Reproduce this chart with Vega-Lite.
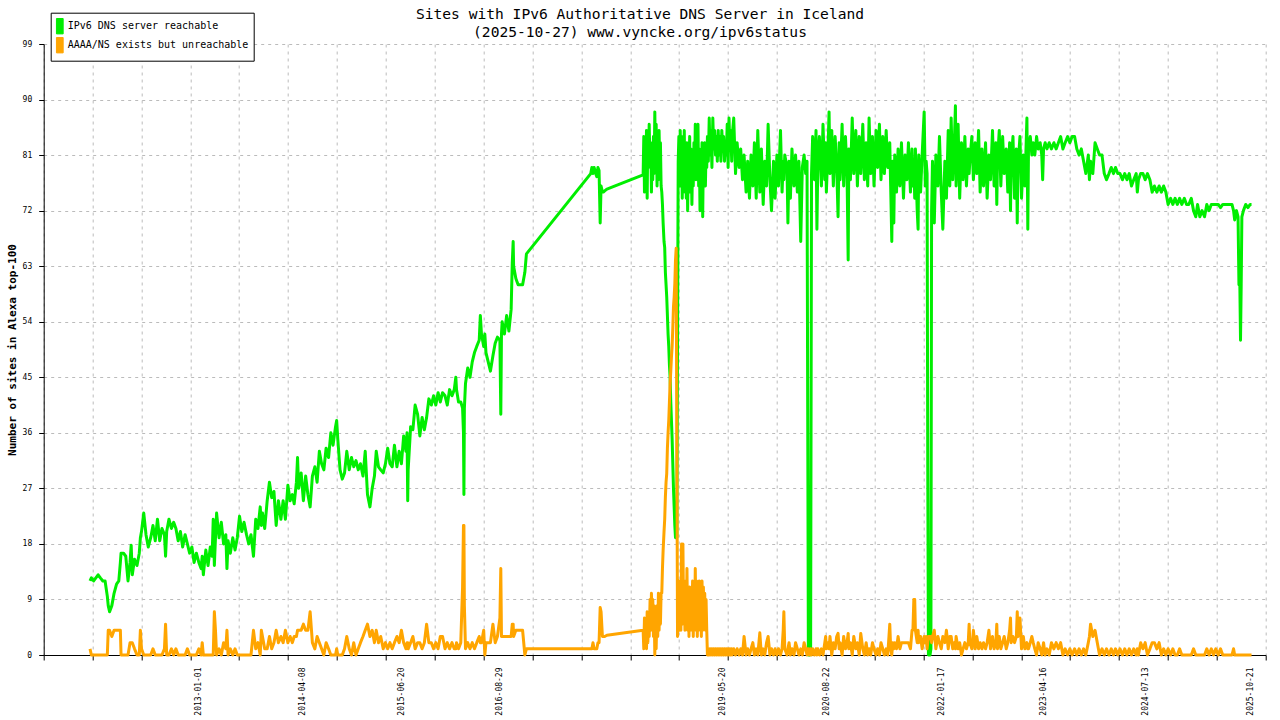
{
  "$schema": "https://vega.github.io/schema/vega-lite/v6.json",
  "description": "Sites with IPv6 Authoritative DNS Server in Iceland",
  "background": "white",
  "autosize": {"type": "none"},
  "padding": {"left": 43.7, "top": 44, "right": 14.3, "bottom": 65},
  "width": 1222,
  "height": 611,
  "config": {
    "view": {"stroke": null},
    "font": "DejaVu Sans Mono",
    "axis": {
      "domainColor": "black",
      "tickColor": "black",
      "labelColor": "black",
      "titleColor": "black",
      "gridColor": "#bbbbbb",
      "gridDash": [3, 4],
      "labelFont": "DejaVu Sans Mono",
      "labelFontSize": 8
    }
  },
  "title": {
    "text": "Sites with IPv6 Authoritative DNS Server in Iceland",
    "subtitle": "(2025-10-27) www.vyncke.org/ipv6status",
    "font": "DejaVu Sans Mono",
    "fontSize": 14.6,
    "fontWeight": "normal",
    "color": "black",
    "subtitleFont": "DejaVu Sans Mono",
    "subtitleFontSize": 14.6,
    "subtitleColor": "black",
    "anchor": "middle",
    "frame": "group",
    "dx": -14.7,
    "offset": -27,
    "subtitlePadding": 3
  },
  "data": {
    "values": [
      {"d":"2011-09-05","g":12,"o":1},{"d":"2011-09-11","g":12.5,"o":0},{"d":"2011-09-21","g":12,"o":0},
      {"d":"2011-10-01","g":12.5,"o":0},{"d":"2011-10-11","g":13,"o":0},{"d":"2011-10-21","g":12.5,"o":0},
      {"d":"2011-11-01","g":12,"o":0},{"d":"2011-11-11","g":12,"o":0},{"d":"2011-11-21","g":9.5,"o":0},
      {"d":"2011-11-25","g":8,"o":4},{"d":"2011-12-01","g":7,"o":4},{"d":"2011-12-11","g":8,"o":3},
      {"d":"2011-12-21","g":10,"o":4},{"d":"2012-01-01","g":11.5,"o":4},{"d":"2012-01-11","g":12,"o":4},
      {"d":"2012-01-18","g":15,"o":4},{"d":"2012-01-21","g":16.5,"o":0},{"d":"2012-02-01","g":16.5,"o":0},
      {"d":"2012-02-11","g":16,"o":0},{"d":"2012-02-21","g":12,"o":0},{"d":"2012-03-01","g":15,"o":2},
      {"d":"2012-03-06","g":17.8,"o":2},{"d":"2012-03-11","g":13,"o":2},{"d":"2012-03-21","g":15.5,"o":1},
      {"d":"2012-04-01","g":14.5,"o":0},{"d":"2012-04-11","g":16.5,"o":0},{"d":"2012-04-16","g":19,"o":4},
      {"d":"2012-04-21","g":20,"o":1},{"d":"2012-05-01","g":23,"o":0},{"d":"2012-05-11","g":19.5,"o":0},
      {"d":"2012-05-21","g":17.5,"o":0},{"d":"2012-06-01","g":19,"o":0},{"d":"2012-06-11","g":21,"o":1},
      {"d":"2012-06-21","g":18.5,"o":0},{"d":"2012-07-01","g":22,"o":0},{"d":"2012-07-11","g":18.5,"o":0},
      {"d":"2012-07-21","g":20.5,"o":0},{"d":"2012-08-01","g":19.5,"o":1},{"d":"2012-08-06","g":16,"o":5},
      {"d":"2012-08-11","g":20,"o":0},{"d":"2012-08-21","g":22,"o":0},{"d":"2012-09-01","g":20.5,"o":1},
      {"d":"2012-09-11","g":21.5,"o":0},{"d":"2012-09-21","g":20.5,"o":1},{"d":"2012-10-01","g":18.5,"o":0},
      {"d":"2012-10-11","g":20,"o":0},{"d":"2012-10-21","g":17.5,"o":0},{"d":"2012-11-01","g":19.5,"o":0},
      {"d":"2012-11-11","g":18,"o":1},{"d":"2012-11-21","g":16.5,"o":0},{"d":"2012-12-01","g":17.5,"o":0},
      {"d":"2012-12-11","g":15,"o":0},{"d":"2012-12-21","g":16.5,"o":0},
      {"d":"2013-01-01","g":15,"o":1},{"d":"2013-01-11","g":14,"o":0},{"d":"2013-01-16","g":16,"o":2},
      {"d":"2013-01-21","g":13,"o":0},{"d":"2013-02-01","g":17,"o":0},{"d":"2013-02-11","g":14.5,"o":0},
      {"d":"2013-02-21","g":17.5,"o":0},{"d":"2013-03-01","g":16,"o":0},{"d":"2013-03-06","g":22,"o":0},
      {"d":"2013-03-11","g":14.5,"o":7},{"d":"2013-03-16","g":19,"o":4},{"d":"2013-03-21","g":23,"o":0},
      {"d":"2013-04-01","g":19,"o":1},{"d":"2013-04-11","g":21.5,"o":0},{"d":"2013-04-21","g":18,"o":2},
      {"d":"2013-05-01","g":19.5,"o":1},{"d":"2013-05-06","g":14,"o":4},{"d":"2013-05-11","g":18.5,"o":0},
      {"d":"2013-05-21","g":16.5,"o":1},{"d":"2013-06-01","g":19,"o":0},{"d":"2013-06-11","g":17,"o":1},
      {"d":"2013-06-21","g":19,"o":0},{"d":"2013-07-01","g":22.5,"o":0},{"d":"2013-07-11","g":20,"o":0},
      {"d":"2013-07-21","g":21.5,"o":0},{"d":"2013-08-01","g":19.5,"o":0},{"d":"2013-08-11","g":18,"o":0},
      {"d":"2013-08-21","g":19.5,"o":0},{"d":"2013-09-01","g":16,"o":4},{"d":"2013-09-11","g":22,"o":1},
      {"d":"2013-09-21","g":20.5,"o":2},{"d":"2013-10-01","g":24,"o":0},{"d":"2013-10-06","g":21,"o":4},
      {"d":"2013-10-11","g":23,"o":3},{"d":"2013-10-21","g":20.5,"o":1},{"d":"2013-11-01","g":25,"o":1},
      {"d":"2013-11-11","g":28,"o":3},{"d":"2013-11-21","g":25.5,"o":1},{"d":"2013-12-01","g":26.5,"o":2},
      {"d":"2013-12-11","g":21,"o":4},{"d":"2013-12-21","g":25,"o":2},
      {"d":"2014-01-01","g":22,"o":3},{"d":"2014-01-11","g":25,"o":2},{"d":"2014-01-21","g":22,"o":4},
      {"d":"2014-02-01","g":27.5,"o":2},{"d":"2014-02-11","g":25,"o":3},{"d":"2014-02-21","g":26,"o":2},
      {"d":"2014-03-01","g":24.5,"o":3},{"d":"2014-03-11","g":28,"o":3},{"d":"2014-03-16","g":32,"o":4},
      {"d":"2014-03-21","g":27,"o":4},{"d":"2014-04-01","g":29.5,"o":4},{"d":"2014-04-11","g":25,"o":5},
      {"d":"2014-04-21","g":29,"o":4},{"d":"2014-05-01","g":26,"o":4},{"d":"2014-05-11","g":24,"o":7},
      {"d":"2014-05-21","g":29,"o":2},{"d":"2014-06-01","g":30.5,"o":1},{"d":"2014-06-11","g":28,"o":3},
      {"d":"2014-06-21","g":33,"o":2},{"d":"2014-07-01","g":31,"o":1},{"d":"2014-07-11","g":30,"o":0},
      {"d":"2014-07-21","g":33.5,"o":2},{"d":"2014-08-01","g":32,"o":1},{"d":"2014-08-11","g":36,"o":0},
      {"d":"2014-08-21","g":34,"o":0},{"d":"2014-09-01","g":37,"o":0},{"d":"2014-09-06","g":38,"o":1},
      {"d":"2014-09-11","g":35,"o":0},{"d":"2014-09-21","g":30,"o":0},{"d":"2014-10-01","g":28.5,"o":0},
      {"d":"2014-10-11","g":29.5,"o":1},{"d":"2014-10-21","g":33,"o":3},{"d":"2014-11-01","g":30,"o":1},
      {"d":"2014-11-11","g":32,"o":0},{"d":"2014-11-21","g":30.5,"o":2},{"d":"2014-12-01","g":31.5,"o":0},
      {"d":"2014-12-11","g":30,"o":1},{"d":"2014-12-21","g":31,"o":2},
      {"d":"2015-01-01","g":29,"o":3},{"d":"2015-01-11","g":33,"o":4},{"d":"2015-01-21","g":26,"o":5},
      {"d":"2015-02-01","g":24,"o":3},{"d":"2015-02-11","g":27,"o":4},{"d":"2015-02-21","g":29,"o":2},
      {"d":"2015-03-01","g":33,"o":4},{"d":"2015-03-11","g":30.5,"o":2},{"d":"2015-03-21","g":30,"o":3},
      {"d":"2015-04-01","g":29.5,"o":1},{"d":"2015-04-11","g":31,"o":2},{"d":"2015-04-21","g":33.5,"o":1},
      {"d":"2015-05-01","g":31,"o":2},{"d":"2015-05-11","g":30.5,"o":1},{"d":"2015-05-21","g":34,"o":2},
      {"d":"2015-06-01","g":30.5,"o":3},{"d":"2015-06-11","g":33,"o":2},{"d":"2015-06-21","g":31,"o":4},
      {"d":"2015-07-01","g":35.5,"o":2},{"d":"2015-07-11","g":33,"o":1},{"d":"2015-07-16","g":36,"o":2},
      {"d":"2015-07-19","g":25,"o":2},{"d":"2015-07-21","g":30,"o":1},{"d":"2015-08-01","g":37,"o":2},
      {"d":"2015-08-11","g":36.5,"o":3},{"d":"2015-08-21","g":40.5,"o":1},{"d":"2015-09-01","g":39,"o":2},
      {"d":"2015-09-11","g":35.5,"o":2},{"d":"2015-09-21","g":38.5,"o":1},{"d":"2015-10-01","g":36.5,"o":2},
      {"d":"2015-10-11","g":38.5,"o":5},{"d":"2015-10-21","g":41.5,"o":2},{"d":"2015-11-01","g":40.5,"o":2},
      {"d":"2015-11-11","g":42,"o":1},{"d":"2015-11-21","g":40.5,"o":2},{"d":"2015-12-01","g":42.5,"o":1},
      {"d":"2015-12-11","g":41,"o":3},{"d":"2015-12-21","g":42.5,"o":3},
      {"d":"2016-01-01","g":42,"o":1},{"d":"2016-01-11","g":40.5,"o":2},{"d":"2016-01-21","g":43,"o":1},
      {"d":"2016-02-01","g":42,"o":2},{"d":"2016-02-11","g":43,"o":1},{"d":"2016-02-18","g":45,"o":1},
      {"d":"2016-02-21","g":43,"o":2},{"d":"2016-03-01","g":41,"o":1},{"d":"2016-03-11","g":41,"o":2},
      {"d":"2016-03-19","g":40,"o":11},{"d":"2016-03-23","g":36,"o":21},{"d":"2016-03-25","g":26,"o":21},
      {"d":"2016-03-27","g":40,"o":8},{"d":"2016-04-01","g":44,"o":1},{"d":"2016-04-11","g":46.5,"o":2},
      {"d":"2016-04-21","g":45,"o":1},{"d":"2016-05-01","g":47.5,"o":2},{"d":"2016-05-11","g":49,"o":1},
      {"d":"2016-05-21","g":50,"o":2},{"d":"2016-06-01","g":51,"o":3},{"d":"2016-06-06","g":55,"o":2},
      {"d":"2016-06-11","g":52,"o":2},{"d":"2016-06-21","g":50,"o":4},{"d":"2016-06-26","g":52,"o":0},
      {"d":"2016-07-01","g":49,"o":2},{"d":"2016-07-11","g":47.5,"o":2},{"d":"2016-07-21","g":46,"o":2},
      {"d":"2016-08-01","g":48.5,"o":5},{"d":"2016-08-11","g":50.5,"o":2},{"d":"2016-08-21","g":51.5,"o":3},
      {"d":"2016-09-01","g":51,"o":6},{"d":"2016-09-05","g":39,"o":14},{"d":"2016-09-08","g":52,"o":3},
      {"d":"2016-09-11","g":54,"o":3},{"d":"2016-09-21","g":52,"o":3},{"d":"2016-10-01","g":55,"o":3},
      {"d":"2016-10-11","g":52.5,"o":3},{"d":"2016-10-21","g":56,"o":3},{"d":"2016-10-26","g":63.5,"o":5},
      {"d":"2016-10-30","g":67,"o":5},{"d":"2016-11-01","g":63,"o":3},{"d":"2016-11-11","g":61,"o":4},
      {"d":"2016-11-21","g":60,"o":4},{"d":"2016-12-01","g":60,"o":4},{"d":"2016-12-11","g":60,"o":4},
      {"d":"2016-12-21","g":62,"o":0},{"d":"2016-12-28","g":65,"o":1},
      {"d":"2017-10-10","g":78,"o":1},{"d":"2017-10-15","g":79,"o":1},{"d":"2017-10-20","g":78,"o":2},
      {"d":"2017-10-25","g":79,"o":1},{"d":"2017-11-01","g":78,"o":1},{"d":"2017-11-06","g":77.5,"o":1},
      {"d":"2017-11-11","g":79,"o":2},{"d":"2017-11-16","g":78.5,"o":2},{"d":"2017-11-21","g":70,"o":7.7},
      {"d":"2017-11-25","g":76,"o":7},{"d":"2017-12-01","g":75,"o":3},{"d":"2017-12-05","g":75,"o":3},
      {"d":"2017-12-11","g":75.2,"o":3},{"d":"2017-12-21","g":75.5,"o":3.2},
      {"d":"2018-05-31","g":77.8,"o":4},{"d":"2018-06-03","g":84,"o":1},{"d":"2018-06-06","g":75,"o":6},
      {"d":"2018-06-09","g":83,"o":2},{"d":"2018-06-12","g":78,"o":5},{"d":"2018-06-15","g":85,"o":1},
      {"d":"2018-06-18","g":74,"o":7},{"d":"2018-06-21","g":85,"o":2},{"d":"2018-06-24","g":80,"o":6},
      {"d":"2018-06-27","g":86,"o":3},{"d":"2018-07-01","g":79,"o":9},{"d":"2018-07-04","g":83,"o":4},
      {"d":"2018-07-07","g":75,"o":10},{"d":"2018-07-10","g":82,"o":5},{"d":"2018-07-13","g":77,"o":9},
      {"d":"2018-07-16","g":84,"o":3},{"d":"2018-07-19","g":78,"o":8},{"d":"2018-07-22","g":88,"o":0},
      {"d":"2018-07-25","g":80,"o":7},{"d":"2018-07-28","g":86,"o":1},{"d":"2018-08-01","g":76,"o":8},
      {"d":"2018-08-04","g":84,"o":3},{"d":"2018-08-07","g":77,"o":10},{"d":"2018-08-10","g":85,"o":4},
      {"d":"2018-08-13","g":79,"o":9},{"d":"2018-08-16","g":83,"o":5},{"d":"2018-08-19","g":76,"o":10},
      {"d":"2018-08-22","g":75,"o":10},{"d":"2018-08-25","g":73,"o":14},{"d":"2018-08-28","g":70,"o":17},
      {"d":"2018-09-01","g":67,"o":20},{"d":"2018-09-04","g":66,"o":22},{"d":"2018-09-07","g":62,"o":25.6},
      {"d":"2018-09-10","g":60,"o":28},{"d":"2018-09-13","g":58,"o":29.4},{"d":"2018-09-16","g":55,"o":33.5},
      {"d":"2018-09-19","g":52,"o":36},{"d":"2018-09-22","g":50,"o":38},{"d":"2018-09-25","g":47,"o":41},
      {"d":"2018-09-28","g":45,"o":44},{"d":"2018-10-01","g":41,"o":46},{"d":"2018-10-04","g":38,"o":48.3},
      {"d":"2018-10-07","g":35,"o":50},{"d":"2018-10-10","g":31,"o":53},{"d":"2018-10-13","g":27,"o":56.4},
      {"d":"2018-10-16","g":24,"o":58},{"d":"2018-10-19","g":21,"o":60.2},{"d":"2018-10-22","g":19,"o":64},
      {"d":"2018-10-25","g":19,"o":65.9},{"d":"2018-10-28","g":19,"o":34.8},{"d":"2018-10-31","g":50,"o":3},
      {"d":"2018-11-03","g":80,"o":8},{"d":"2018-11-06","g":84,"o":12},{"d":"2018-11-09","g":76,"o":4},
      {"d":"2018-11-12","g":85,"o":12},{"d":"2018-11-15","g":78,"o":4},{"d":"2018-11-18","g":84,"o":18},
      {"d":"2018-11-21","g":74,"o":5},{"d":"2018-11-24","g":82,"o":18},{"d":"2018-11-27","g":77,"o":6},
      {"d":"2018-11-30","g":85,"o":11},{"d":"2018-12-03","g":75,"o":4},{"d":"2018-12-06","g":81,"o":12},
      {"d":"2018-12-09","g":74,"o":5},{"d":"2018-12-12","g":83,"o":14},{"d":"2018-12-15","g":72,"o":4},
      {"d":"2018-12-18","g":80,"o":10},{"d":"2018-12-21","g":76,"o":3},{"d":"2018-12-24","g":84,"o":11},
      {"d":"2018-12-27","g":75,"o":4},{"d":"2018-12-30","g":82,"o":9},{"d":"2019-01-03","g":73,"o":4},
      {"d":"2019-01-06","g":80,"o":12},{"d":"2019-01-09","g":76,"o":3},{"d":"2019-01-12","g":83,"o":10},
      {"d":"2019-01-15","g":78,"o":5},{"d":"2019-01-18","g":86,"o":14},{"d":"2019-01-21","g":77,"o":4},
      {"d":"2019-01-24","g":84,"o":12},{"d":"2019-01-27","g":79,"o":3},{"d":"2019-01-30","g":86,"o":10},
      {"d":"2019-02-02","g":76,"o":4},{"d":"2019-02-05","g":82,"o":12},{"d":"2019-02-08","g":72,"o":5},
      {"d":"2019-02-11","g":80,"o":11},{"d":"2019-02-14","g":75,"o":3},{"d":"2019-02-17","g":83,"o":12},
      {"d":"2019-02-20","g":71,"o":4},{"d":"2019-02-23","g":81,"o":11},{"d":"2019-02-26","g":77,"o":5},
      {"d":"2019-03-01","g":83,"o":10},{"d":"2019-03-04","g":76,"o":4},{"d":"2019-03-07","g":82,"o":9},
      {"d":"2019-03-10","g":79,"o":4},{"d":"2019-03-13","g":84,"o":0},{"d":"2019-03-17","g":80,"o":1},
      {"d":"2019-03-21","g":87,"o":0},{"d":"2019-03-25","g":81,"o":1},{"d":"2019-03-29","g":85,"o":0},
      {"d":"2019-04-02","g":79,"o":1},{"d":"2019-04-06","g":87,"o":0},{"d":"2019-04-10","g":82,"o":1},
      {"d":"2019-04-14","g":85,"o":0},{"d":"2019-04-18","g":81,"o":1},{"d":"2019-04-22","g":84,"o":0},
      {"d":"2019-04-26","g":80,"o":1},{"d":"2019-04-30","g":85,"o":0},{"d":"2019-05-04","g":81,"o":1},
      {"d":"2019-05-08","g":84,"o":0},{"d":"2019-05-12","g":80,"o":1},{"d":"2019-05-16","g":85,"o":0},
      {"d":"2019-05-20","g":82,"o":1},{"d":"2019-05-24","g":84,"o":0},{"d":"2019-05-28","g":80,"o":1},
      {"d":"2019-06-01","g":83,"o":0},{"d":"2019-06-05","g":81,"o":1},{"d":"2019-06-09","g":86,"o":0},
      {"d":"2019-06-13","g":79,"o":1},{"d":"2019-06-17","g":87,"o":0},{"d":"2019-06-21","g":82,"o":1},
      {"d":"2019-06-25","g":85,"o":0},{"d":"2019-06-29","g":80,"o":1},
      {"d":"2019-07-01","g":84,"o":0},{"d":"2019-07-08","g":87,"o":1},{"d":"2019-07-16","g":78,"o":0},
      {"d":"2019-07-23","g":83,"o":1},{"d":"2019-08-01","g":79,"o":0},{"d":"2019-08-08","g":82,"o":1},
      {"d":"2019-08-16","g":77,"o":0},{"d":"2019-08-23","g":81,"o":3},{"d":"2019-09-01","g":75,"o":0},
      {"d":"2019-09-08","g":80,"o":1},{"d":"2019-09-16","g":74,"o":0},{"d":"2019-09-23","g":81,"o":1},
      {"d":"2019-10-01","g":76,"o":2},{"d":"2019-10-08","g":83,"o":0},{"d":"2019-10-16","g":74,"o":1},
      {"d":"2019-10-23","g":85,"o":0},{"d":"2019-11-01","g":75,"o":3.6},{"d":"2019-11-08","g":82,"o":0},
      {"d":"2019-11-16","g":73,"o":1},{"d":"2019-11-23","g":80,"o":0},{"d":"2019-12-01","g":76,"o":2},
      {"d":"2019-12-08","g":86,"o":3},{"d":"2019-12-16","g":77,"o":0},{"d":"2019-12-23","g":72,"o":1},
      {"d":"2020-01-01","g":80,"o":0},{"d":"2020-01-08","g":74,"o":1},{"d":"2020-01-16","g":81,"o":0},
      {"d":"2020-01-23","g":76,"o":1},{"d":"2020-02-01","g":85,"o":0},{"d":"2020-02-08","g":75,"o":1},
      {"d":"2020-02-13","g":80,"o":4},{"d":"2020-02-16","g":77,"o":7},{"d":"2020-02-20","g":81,"o":1},
      {"d":"2020-03-01","g":79,"o":0},{"d":"2020-03-05","g":70,"o":1},{"d":"2020-03-10","g":80,"o":2},
      {"d":"2020-03-16","g":74,"o":0},{"d":"2020-03-23","g":82,"o":1},{"d":"2020-04-01","g":76,"o":0},
      {"d":"2020-04-08","g":81,"o":2},{"d":"2020-04-16","g":75,"o":1},{"d":"2020-04-23","g":80,"o":0},
      {"d":"2020-05-01","g":67,"o":1},{"d":"2020-05-08","g":79,"o":0},{"d":"2020-05-16","g":81,"o":2},
      {"d":"2020-05-23","g":78,"o":1},{"d":"2020-05-29","g":80,"o":0},{"d":"2020-06-01","g":40,"o":1},
      {"d":"2020-06-04","g":0,"o":1},{"d":"2020-06-10","g":0,"o":0},{"d":"2020-06-14","g":1,"o":1},
      {"d":"2020-06-18","g":78,"o":0},{"d":"2020-06-23","g":84,"o":1},{"d":"2020-07-01","g":77,"o":0},
      {"d":"2020-07-08","g":85,"o":1},{"d":"2020-07-12","g":69,"o":0},{"d":"2020-07-16","g":80,"o":1},
      {"d":"2020-07-23","g":84,"o":0},{"d":"2020-08-01","g":76,"o":1},{"d":"2020-08-08","g":86,"o":0},
      {"d":"2020-08-16","g":77,"o":2},{"d":"2020-08-20","g":83,"o":3},{"d":"2020-08-23","g":75,"o":1},
      {"d":"2020-09-01","g":84,"o":2},{"d":"2020-09-04","g":88,"o":1},{"d":"2020-09-08","g":78,"o":3},
      {"d":"2020-09-16","g":85,"o":0},{"d":"2020-09-23","g":76,"o":2},{"d":"2020-10-01","g":84,"o":1},
      {"d":"2020-10-08","g":79,"o":3},{"d":"2020-10-14","g":71,"o":3.5},{"d":"2020-10-19","g":83,"o":1},
      {"d":"2020-10-23","g":77,"o":2},{"d":"2020-11-01","g":86,"o":0},{"d":"2020-11-08","g":76,"o":3},
      {"d":"2020-11-16","g":84,"o":1},{"d":"2020-11-23","g":78,"o":2},{"d":"2020-11-28","g":64,"o":3.5},
      {"d":"2020-12-01","g":82,"o":1},{"d":"2020-12-08","g":77,"o":2},{"d":"2020-12-16","g":87,"o":0},
      {"d":"2020-12-23","g":78,"o":3},
      {"d":"2021-01-01","g":85,"o":1},{"d":"2021-01-08","g":76,"o":2},{"d":"2021-01-16","g":84,"o":0},
      {"d":"2021-01-23","g":78,"o":3.5},{"d":"2021-02-01","g":86,"o":1},{"d":"2021-02-08","g":77,"o":0},
      {"d":"2021-02-16","g":83,"o":2},{"d":"2021-02-23","g":76,"o":0},{"d":"2021-03-01","g":87,"o":1},
      {"d":"2021-03-08","g":78,"o":0},{"d":"2021-03-16","g":84,"o":2},{"d":"2021-03-23","g":76,"o":1},
      {"d":"2021-04-01","g":85,"o":0},{"d":"2021-04-08","g":79,"o":1},{"d":"2021-04-16","g":86,"o":0},
      {"d":"2021-04-23","g":77,"o":2},{"d":"2021-05-01","g":84,"o":1},{"d":"2021-05-08","g":78,"o":0},
      {"d":"2021-05-16","g":85,"o":1},{"d":"2021-05-23","g":79,"o":0},{"d":"2021-06-01","g":83,"o":5},
      {"d":"2021-06-05","g":76,"o":1},{"d":"2021-06-10","g":67,"o":0},{"d":"2021-06-14","g":80,"o":2},
      {"d":"2021-06-19","g":70,"o":1},{"d":"2021-06-23","g":81,"o":2},{"d":"2021-07-01","g":75,"o":1},
      {"d":"2021-07-08","g":82,"o":3},{"d":"2021-07-16","g":76,"o":1},{"d":"2021-07-23","g":83,"o":2},
      {"d":"2021-08-01","g":74,"o":2},{"d":"2021-08-08","g":81,"o":2},{"d":"2021-08-16","g":77,"o":2},
      {"d":"2021-08-23","g":83,"o":2},{"d":"2021-09-01","g":75,"o":1},{"d":"2021-09-08","g":82,"o":4},
      {"d":"2021-09-12","g":76,"o":4},{"d":"2021-09-16","g":80,"o":9},{"d":"2021-09-20","g":74,"o":9},
      {"d":"2021-09-23","g":82,"o":4},{"d":"2021-10-01","g":72,"o":2},{"d":"2021-10-05","g":69,"o":4},
      {"d":"2021-10-08","g":81,"o":2},{"d":"2021-10-16","g":75,"o":3},{"d":"2021-10-23","g":81,"o":1},
      {"d":"2021-11-01","g":88,"o":3},{"d":"2021-11-06","g":76,"o":2},{"d":"2021-11-10","g":80,"o":3},
      {"d":"2021-11-14","g":78,"o":1},{"d":"2021-11-17","g":30,"o":2},{"d":"2021-11-20","g":0,"o":3},
      {"d":"2021-11-27","g":0,"o":3},{"d":"2021-12-01","g":1,"o":3},{"d":"2021-12-04","g":72,"o":2},
      {"d":"2021-12-08","g":80,"o":3},{"d":"2021-12-16","g":70,"o":4},{"d":"2021-12-23","g":81,"o":1},
      {"d":"2022-01-01","g":76,"o":3},{"d":"2022-01-08","g":84,"o":2},{"d":"2022-01-16","g":75,"o":1},
      {"d":"2022-01-23","g":69,"o":3},{"d":"2022-02-01","g":80,"o":2},{"d":"2022-02-08","g":74,"o":4},
      {"d":"2022-02-16","g":85,"o":1},{"d":"2022-02-23","g":76,"o":3},{"d":"2022-03-01","g":87,"o":3},
      {"d":"2022-03-08","g":77,"o":1},{"d":"2022-03-16","g":84,"o":2},{"d":"2022-03-20","g":89,"o":1},
      {"d":"2022-03-23","g":76,"o":3},{"d":"2022-04-01","g":86,"o":1},{"d":"2022-04-08","g":74,"o":2},
      {"d":"2022-04-16","g":83,"o":0},{"d":"2022-04-23","g":77,"o":1},{"d":"2022-05-01","g":84,"o":2},
      {"d":"2022-05-08","g":76,"o":1},{"d":"2022-05-16","g":82,"o":2},{"d":"2022-05-20","g":78,"o":5},
      {"d":"2022-05-23","g":80,"o":2},{"d":"2022-06-01","g":84,"o":1},{"d":"2022-06-08","g":77,"o":4},
      {"d":"2022-06-16","g":83,"o":1},{"d":"2022-06-23","g":78,"o":3},{"d":"2022-07-01","g":85,"o":1},
      {"d":"2022-07-08","g":75,"o":2},{"d":"2022-07-16","g":82,"o":1},{"d":"2022-07-23","g":76,"o":2},
      {"d":"2022-08-01","g":83,"o":1},{"d":"2022-08-08","g":74,"o":2},{"d":"2022-08-16","g":81,"o":4},
      {"d":"2022-08-23","g":77,"o":1},{"d":"2022-09-01","g":85,"o":3},{"d":"2022-09-08","g":76,"o":1},
      {"d":"2022-09-16","g":83,"o":2},{"d":"2022-09-20","g":73,"o":5},{"d":"2022-09-23","g":80,"o":1},
      {"d":"2022-10-01","g":85,"o":3},{"d":"2022-10-08","g":76,"o":1},{"d":"2022-10-16","g":84,"o":2},
      {"d":"2022-10-23","g":78,"o":3},{"d":"2022-11-01","g":82,"o":1},{"d":"2022-11-08","g":75,"o":2},
      {"d":"2022-11-16","g":83,"o":4},{"d":"2022-11-20","g":72,"o":6},{"d":"2022-11-23","g":80,"o":2},
      {"d":"2022-12-01","g":84,"o":3},{"d":"2022-12-08","g":74,"o":2},{"d":"2022-12-16","g":82,"o":3},
      {"d":"2022-12-20","g":70,"o":7},{"d":"2022-12-23","g":79,"o":3},
      {"d":"2023-01-01","g":84,"o":6},{"d":"2023-01-08","g":74,"o":1},{"d":"2023-01-16","g":81,"o":3},
      {"d":"2023-01-23","g":76,"o":1},{"d":"2023-02-01","g":87,"o":2},{"d":"2023-02-05","g":69,"o":1},
      {"d":"2023-02-08","g":82,"o":1},{"d":"2023-02-16","g":84,"o":2},{"d":"2023-02-23","g":81,"o":3},
      {"d":"2023-03-01","g":83,"o":2},{"d":"2023-03-08","g":81,"o":1},{"d":"2023-03-16","g":84,"o":0},
      {"d":"2023-03-23","g":82,"o":2},{"d":"2023-04-01","g":83,"o":1},{"d":"2023-04-08","g":81,"o":0},
      {"d":"2023-04-12","g":77,"o":1},{"d":"2023-04-16","g":82,"o":2},{"d":"2023-04-23","g":83,"o":0},
      {"d":"2023-05-01","g":82,"o":1},{"d":"2023-05-11","g":83,"o":0},{"d":"2023-05-21","g":82,"o":2},
      {"d":"2023-06-01","g":83,"o":1},{"d":"2023-06-11","g":82,"o":2},{"d":"2023-06-21","g":83,"o":1},
      {"d":"2023-07-01","g":84,"o":2},{"d":"2023-07-11","g":82,"o":0},{"d":"2023-07-21","g":83,"o":1},
      {"d":"2023-08-01","g":84,"o":0},{"d":"2023-08-11","g":83,"o":1},{"d":"2023-08-21","g":84,"o":0},
      {"d":"2023-09-01","g":84,"o":1},{"d":"2023-09-11","g":82,"o":0},{"d":"2023-09-21","g":81,"o":1},
      {"d":"2023-10-01","g":82,"o":0},{"d":"2023-10-11","g":80,"o":1},{"d":"2023-10-21","g":78,"o":0},
      {"d":"2023-11-01","g":81,"o":2},{"d":"2023-11-06","g":77,"o":3},{"d":"2023-11-11","g":80,"o":5},
      {"d":"2023-11-21","g":78,"o":3},{"d":"2023-12-01","g":83,"o":4},{"d":"2023-12-11","g":82,"o":2},
      {"d":"2023-12-21","g":81,"o":0},
      {"d":"2024-01-01","g":81,"o":1},{"d":"2024-01-11","g":78,"o":0},{"d":"2024-01-21","g":77,"o":1},
      {"d":"2024-02-01","g":78,"o":0},{"d":"2024-02-11","g":79,"o":1},{"d":"2024-02-21","g":78,"o":0},
      {"d":"2024-03-01","g":79,"o":1},{"d":"2024-03-11","g":78,"o":0},{"d":"2024-03-21","g":78,"o":1},
      {"d":"2024-04-01","g":77,"o":0},{"d":"2024-04-11","g":78,"o":1},{"d":"2024-04-21","g":77,"o":0},
      {"d":"2024-05-01","g":78,"o":1},{"d":"2024-05-11","g":76,"o":0},{"d":"2024-05-21","g":77,"o":1},
      {"d":"2024-06-01","g":78,"o":0},{"d":"2024-06-06","g":75,"o":1},{"d":"2024-06-11","g":77,"o":0},
      {"d":"2024-06-21","g":78,"o":2},{"d":"2024-07-01","g":78,"o":1},{"d":"2024-07-11","g":77,"o":2},
      {"d":"2024-07-21","g":78,"o":0},{"d":"2024-08-01","g":77,"o":1},{"d":"2024-08-11","g":75,"o":2},
      {"d":"2024-08-21","g":76,"o":2},{"d":"2024-09-01","g":75,"o":1},{"d":"2024-09-11","g":76,"o":2},
      {"d":"2024-09-21","g":75,"o":0},{"d":"2024-10-01","g":76,"o":1},{"d":"2024-10-11","g":75,"o":0},
      {"d":"2024-10-21","g":73,"o":1},{"d":"2024-11-01","g":74,"o":0},{"d":"2024-11-11","g":73,"o":1},
      {"d":"2024-11-21","g":74,"o":0},{"d":"2024-12-01","g":73,"o":0},{"d":"2024-12-11","g":74,"o":1},
      {"d":"2024-12-21","g":73,"o":0},
      {"d":"2025-01-01","g":74,"o":0},{"d":"2025-01-11","g":73,"o":0},{"d":"2025-01-21","g":73,"o":0},
      {"d":"2025-02-01","g":74,"o":0},{"d":"2025-02-11","g":72,"o":1},{"d":"2025-02-21","g":71,"o":0},
      {"d":"2025-03-01","g":73,"o":0},{"d":"2025-03-11","g":71,"o":0},{"d":"2025-03-21","g":72,"o":0},
      {"d":"2025-04-01","g":71,"o":0},{"d":"2025-04-11","g":73,"o":1},{"d":"2025-04-21","g":72,"o":0},
      {"d":"2025-05-01","g":73,"o":1},{"d":"2025-05-11","g":73,"o":0},{"d":"2025-05-21","g":73,"o":1},
      {"d":"2025-06-01","g":73,"o":0},{"d":"2025-06-11","g":72.5,"o":1},{"d":"2025-06-21","g":73,"o":0},
      {"d":"2025-07-01","g":73,"o":0},{"d":"2025-07-11","g":73,"o":0},{"d":"2025-07-21","g":73,"o":0},
      {"d":"2025-08-01","g":73,"o":0},{"d":"2025-08-08","g":72,"o":1},{"d":"2025-08-13","g":70.5,"o":0},
      {"d":"2025-08-21","g":72,"o":0},{"d":"2025-08-28","g":71,"o":0},{"d":"2025-09-01","g":60,"o":0},
      {"d":"2025-09-05","g":60,"o":0},{"d":"2025-09-08","g":51,"o":0},{"d":"2025-09-11","g":60,"o":0},
      {"d":"2025-09-14","g":71,"o":0},{"d":"2025-09-21","g":72,"o":0},{"d":"2025-10-01","g":73,"o":0},
      {"d":"2025-10-11","g":72.5,"o":0},{"d":"2025-10-21","g":73,"o":0},{"d":"2025-10-27","g":73,"o":0}
    ]
  },
  "transform": [{"fold": ["g", "o"], "as": ["s", "v"]}],
  "encoding": {
    "y": {
      "field": "v",
      "type": "quantitative",
      "scale": {"domain": [0, 99], "nice": false, "zero": false},
      "axis": {
        "title": "Number of sites in Alexa top-100",
        "titleFont": "DejaVu Sans Mono",
        "titleFontSize": 11,
        "titleFontWeight": "bold",
        "titlePadding": 5,
        "values": [0, 9, 18, 27, 36, 45, 54, 63, 72, 81, 90, 99],
        "grid": true,
        "tickSize": 5,
        "labelPadding": 7
      }
    },
    "color": {
      "field": "s",
      "type": "nominal",
      "scale": {"domain": ["g", "o"], "range": ["#00ee00", "#ffa500"]},
      "legend": {
        "title": null,
        "orient": "none",
        "legendX": 7,
        "legendY": -31.3,
        "direction": "vertical",
        "fillColor": "white",
        "strokeColor": "black",
        "padding": 5,
        "symbolType": "M-0.97,-0.96H-0.13V0.96H-0.97Z",
        "symbolSize": 256,
        "symbolStrokeColor": "black",
        "symbolStrokeWidth": 1,
        "labelFont": "DejaVu Sans Mono",
        "labelFontSize": 10,
        "labelColor": "black",
        "labelLimit": 400,
        "labelOffset": -5,
        "rowPadding": -3.8,
        "labelExpr": "datum.value === 'g' ? 'IPv6 DNS server reachable' : 'AAAA/NS exists but unreachable'",
        "encode": {"symbols": {"update": {"fill": {"scale": "color", "field": "value"}, "fillOpacity": {"value": 1}}}}
      }
    }
  },
  "layer": [
    {
      "transform": [{"filter": "datum.s === 'g'"}],
      "mark": {"type": "line", "strokeWidth": 3, "strokeJoin": "round", "interpolate": "linear"},
      "encoding": {
        "x": {
          "field": "d",
          "type": "temporal",
          "scale": {
            "type": "utc",
            "domain": [
              {"year": 2011, "month": 2, "date": 11, "utc": true},
              {"year": 2025, "month": 12, "date": 29, "utc": true}
            ]
          },
          "axis": {
            "orient": "bottom",
            "title": null,
            "labels": false,
            "grid": true,
            "tickSize": 5,
            "values": [
              {"year": 2011, "month": 2, "date": 11, "utc": true},
              {"year": 2011, "month": 9, "date": 16, "utc": true},
              {"year": 2012, "month": 4, "date": 21, "utc": true},
              {"year": 2012, "month": 11, "date": 24, "utc": true},
              {"year": 2013, "month": 6, "date": 29, "utc": true},
              {"year": 2014, "month": 2, "date": 2, "utc": true},
              {"year": 2014, "month": 9, "date": 7, "utc": true},
              {"year": 2015, "month": 4, "date": 13, "utc": true},
              {"year": 2015, "month": 11, "date": 16, "utc": true},
              {"year": 2016, "month": 6, "date": 20, "utc": true},
              {"year": 2017, "month": 1, "date": 24, "utc": true},
              {"year": 2017, "month": 8, "date": 29, "utc": true},
              {"year": 2018, "month": 4, "date": 4, "utc": true},
              {"year": 2018, "month": 11, "date": 7, "utc": true},
              {"year": 2019, "month": 6, "date": 12, "utc": true},
              {"year": 2020, "month": 1, "date": 16, "utc": true},
              {"year": 2020, "month": 8, "date": 20, "utc": true},
              {"year": 2021, "month": 3, "date": 26, "utc": true},
              {"year": 2021, "month": 10, "date": 29, "utc": true},
              {"year": 2022, "month": 6, "date": 4, "utc": true},
              {"year": 2023, "month": 1, "date": 7, "utc": true},
              {"year": 2023, "month": 8, "date": 12, "utc": true},
              {"year": 2024, "month": 3, "date": 17, "utc": true},
              {"year": 2024, "month": 10, "date": 20, "utc": true},
              {"year": 2025, "month": 5, "date": 25, "utc": true},
              {"year": 2025, "month": 12, "date": 29, "utc": true}
            ]
          }
        }
      }
    },
    {
      "transform": [{"filter": "datum.s === 'o'"}],
      "mark": {"type": "line", "strokeWidth": 3, "strokeJoin": "round", "interpolate": "linear"},
      "encoding": {
        "x": {
          "field": "d",
          "type": "temporal",
          "scale": {
            "type": "utc",
            "domain": [
              {"year": 2011, "month": 2, "date": 11, "utc": true},
              {"year": 2025, "month": 12, "date": 29, "utc": true}
            ]
          },
          "axis": {
            "orient": "bottom",
            "title": null,
            "grid": false,
            "ticks": false,
            "tickSize": 0,
            "domain": false,
            "labelAngle": 270,
            "labelAlign": "right",
            "labelBaseline": "middle",
            "labelPadding": 12,
            "labelOverlap": false,
            "format": "%Y-%m-%d",
            "values": [
              {"year": 2013, "month": 1, "date": 1, "utc": true},
              {"year": 2014, "month": 4, "date": 8, "utc": true},
              {"year": 2015, "month": 6, "date": 20, "utc": true},
              {"year": 2016, "month": 8, "date": 29, "utc": true},
              {"year": 2019, "month": 5, "date": 20, "utc": true},
              {"year": 2020, "month": 8, "date": 22, "utc": true},
              {"year": 2022, "month": 1, "date": 17, "utc": true},
              {"year": 2023, "month": 4, "date": 16, "utc": true},
              {"year": 2024, "month": 7, "date": 13, "utc": true},
              {"year": 2025, "month": 10, "date": 21, "utc": true}
            ]
          }
        }
      }
    }
  ],
  "resolve": {"axis": {"x": "independent"}}
}
